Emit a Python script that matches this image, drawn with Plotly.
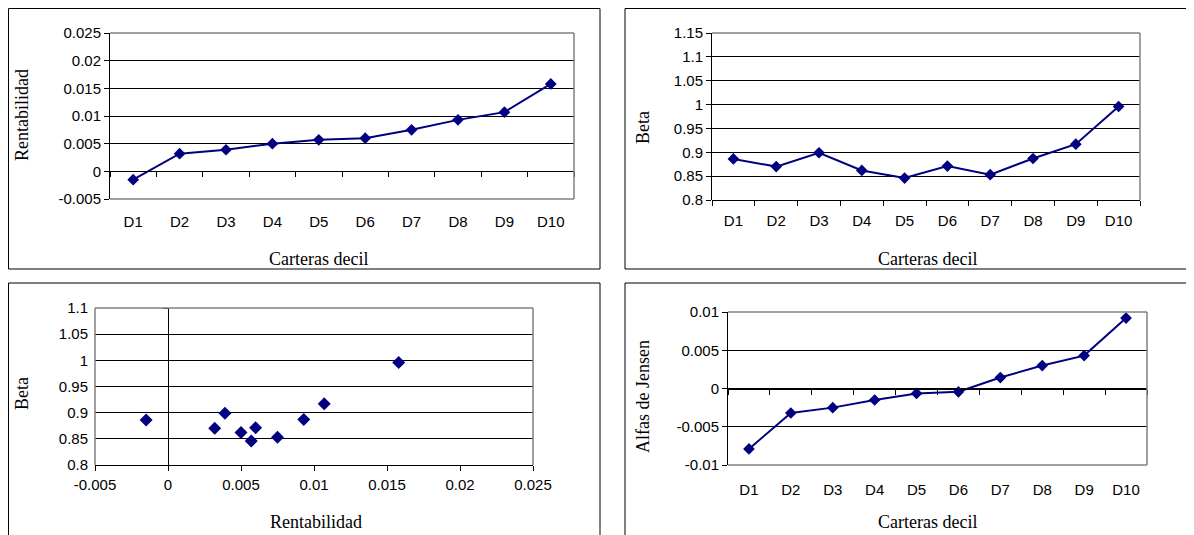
import plotly.graph_objects as go

W, H = 1194, 535
OX, OY = 8, 8  # page offset of the figure (body margin)

deciles = ["D1", "D2", "D3", "D4", "D5", "D6", "D7", "D8", "D9", "D10"]
rentabilidad = [-0.0015, 0.0032, 0.0039, 0.0050, 0.0057, 0.0060, 0.0075, 0.0093, 0.0107, 0.0158]
beta = [0.886, 0.870, 0.899, 0.862, 0.846, 0.871, 0.853, 0.887, 0.917, 0.996]
alfas = [-0.0079, -0.0032, -0.0025, -0.0015, -0.00065, -0.00043, 0.00143, 0.0030, 0.0043, 0.0092]

rent_ticks = [-0.005, 0, 0.005, 0.01, 0.015, 0.02, 0.025]
rent_text = ["-0.005", "0", "0.005", "0.01", "0.015", "0.02", "0.025"]
beta2_ticks = [0.8, 0.85, 0.9, 0.95, 1.0, 1.05, 1.1, 1.15]
beta2_text = ["0.8", "0.85", "0.9", "0.95", "1", "1.05", "1.1", "1.15"]
beta3_ticks = [0.8, 0.85, 0.9, 0.95, 1.0, 1.05, 1.1]
beta3_text = ["0.8", "0.85", "0.9", "0.95", "1", "1.05", "1.1"]
alfa_ticks = [-0.01, -0.005, 0, 0.005, 0.01]
alfa_text = ["-0.01", "-0.005", "0", "0.005", "0.01"]

NAVY = "#000080"
GRAY = "#808080"
TICKFONT = dict(family="Liberation Sans, Arial, sans-serif", size=15, color="black")
TITLEFONT = dict(family="Liberation Serif, Times New Roman, serif", size=18, color="black")


def fx(px):
    return (px - OX) / W


def fy(py):
    return 1 - (py - OY) / H


# plot areas in page pixels: (left, right, top, bottom)
P1 = (110, 574, 33, 199)
P2 = (712, 1140, 33, 200)
P3 = (95, 533, 308, 465)
P4 = (728, 1147, 312, 465)


def xdom(p):
    return [fx(p[0]), fx(p[1])]


def ydom(p):
    return [fy(p[3]), fy(p[2])]


cat_x = list(range(1, len(deciles) + 1))
bounds = [i + 0.5 for i in range(0, len(deciles) + 1)]

fig = go.Figure()

line_style = dict(color=NAVY, width=2)
marker_style = dict(symbol="diamond", size=9, color=NAVY)

fig.add_trace(go.Scatter(x=cat_x, y=rentabilidad, mode="lines+markers", line=line_style,
                         marker=marker_style, xaxis="x", yaxis="y", showlegend=False))
fig.add_trace(go.Scatter(x=cat_x, y=beta, mode="lines+markers", line=line_style,
                         marker=marker_style, xaxis="x2", yaxis="y2", showlegend=False))
fig.add_trace(go.Scatter(x=rentabilidad, y=beta, mode="markers",
                         marker=dict(symbol="diamond", size=10, color=NAVY),
                         xaxis="x3", yaxis="y3", showlegend=False))
fig.add_trace(go.Scatter(x=cat_x, y=alfas, mode="lines+markers", line=line_style,
                         marker=marker_style, xaxis="x4", yaxis="y4", showlegend=False))

# dummy traces to activate overlay tick axes
for xa, ya in [("x5", "y"), ("x6", "y2"), ("x7", "y4"), ("x3", "y5")]:
    fig.add_trace(go.Scatter(x=[], y=[], xaxis=xa, yaxis=ya, showlegend=False, hoverinfo="skip"))


def cat_xaxis(p, anchor, standoff=11):
    return dict(domain=xdom(p), anchor=anchor, range=[0.5, 10.5], tickmode="array",
                tickvals=cat_x, ticktext=deciles, ticks="", showline=False, showgrid=False,
                zeroline=False, tickfont=TICKFONT, ticklabelstandoff=standoff, fixedrange=True,
                automargin=False)


def val_yaxis(p, anchor, rng, tv, tt, showline=True):
    return dict(domain=ydom(p), anchor=anchor, range=rng, tickmode="array", tickvals=tv,
                ticktext=tt, ticks="outside" if showline else "", ticklen=5, tickcolor="black",
                showline=showline, linecolor="black", linewidth=1, showgrid=True,
                gridcolor="black", gridwidth=1, zeroline=False, tickfont=TICKFONT,
                fixedrange=True, automargin=False,
                ticklabelstandoff=0 if showline else 6)


def pos_of(p, rng, v):
    d0, d1 = ydom(p)
    return d0 + (v - rng[0]) / (rng[1] - rng[0]) * (d1 - d0)


r1 = [-0.005, 0.025]
r2 = [0.8, 1.15]
r3x = [-0.005, 0.025]
r3y = [0.8, 1.1]
r4 = [-0.01, 0.01]


def tick_overlay(p, over, pos):
    return dict(domain=xdom(p), overlaying=over, anchor="free", position=pos, range=[0.5, 10.5],
                tickmode="array", tickvals=bounds, showticklabels=False, ticks="outside",
                ticklen=5, tickcolor="black", showline=True, linecolor="black", linewidth=1,
                showgrid=False, zeroline=False, fixedrange=True, automargin=False)


layout = dict(
    width=W, height=H, margin=dict(l=0, r=0, t=0, b=0, pad=0, autoexpand=False),
    paper_bgcolor="white", plot_bgcolor="white", showlegend=False,
    xaxis=cat_xaxis(P1, "y", 12),
    yaxis=val_yaxis(P1, "x", r1, rent_ticks, rent_text),
    xaxis2=cat_xaxis(P2, "y2", 10),
    yaxis2=val_yaxis(P2, "x2", r2, beta2_ticks, beta2_text),
    xaxis3=dict(domain=xdom(P3), anchor="y3", range=r3x, tickmode="array", tickvals=rent_ticks,
                ticktext=rent_text, ticks="outside", ticklen=5, tickcolor="black", showline=True,
                linecolor="black", linewidth=1, showgrid=False, zeroline=False,
                tickfont=TICKFONT, fixedrange=True, automargin=False, ticklabelstandoff=1),
    yaxis3=val_yaxis(P3, "x3", r3y, beta3_ticks, beta3_text, showline=False),
    xaxis4=cat_xaxis(P4, "y4", 14),
    yaxis4=val_yaxis(P4, "x4", r4, alfa_ticks, alfa_text),
    xaxis5=tick_overlay(P1, "x", pos_of(P1, r1, 0)),
    xaxis6=tick_overlay(P2, "x2", pos_of(P2, r2, r2[0])),
    xaxis7=tick_overlay(P4, "x4", pos_of(P4, r4, 0)),
    yaxis5=dict(domain=ydom(P3), overlaying="y3", anchor="free",
                position=fx(P3[0]) + (0 - r3x[0]) / (r3x[1] - r3x[0]) * (fx(P3[1]) - fx(P3[0])),
                range=r3y, tickmode="array", tickvals=beta3_ticks, showticklabels=False,
                ticks="outside", ticklen=5, tickcolor="black", showline=True, linecolor="black",
                linewidth=1, showgrid=False, zeroline=False, fixedrange=True, automargin=False),
)
fig.update_layout(**layout)

shapes = []


def gray_line(xref, yref, x0, y0, x1, y1):
    shapes.append(dict(type="line", xref=xref, yref=yref, x0=x0, y0=y0, x1=x1, y1=y1,
                       line=dict(color=GRAY, width=1.5), layer="above"))


# gray plot-area frames
gray_line("x domain", "y domain", 0, 1, 1, 1)
gray_line("x domain", "y domain", 1, 0, 1, 1)
gray_line("x domain", "y domain", 0, 0, 1, 0)
gray_line("x2 domain", "y2 domain", 0, 1, 1, 1)
gray_line("x2 domain", "y2 domain", 1, 0, 1, 1)
gray_line("x3 domain", "y3 domain", 0, 1, 1, 1)
gray_line("x3 domain", "y3 domain", 1, 0, 1, 1)
gray_line("x3 domain", "y3 domain", 0, 0, 0, 1)
gray_line("x4 domain", "y4 domain", 0, 1, 1, 1)
gray_line("x4 domain", "y4 domain", 1, 0, 1, 1)
gray_line("x4 domain", "y4 domain", 0, 0, 1, 0)

# outer panel borders (page pixels; clamped to the drawable area)
for (l, t, r, b) in [(8.5, 8.5, 600, 269), (625, 8.5, 1193, 269),
                     (8.5, 283, 600, 560), (625, 283, 1193, 560)]:
    shapes.append(dict(type="rect", xref="paper", yref="paper", x0=fx(l), x1=fx(r), y0=fy(b), y1=fy(t),
                       line=dict(color="black", width=1), fillcolor="rgba(0,0,0,0)", layer="above"))

fig.update_layout(shapes=shapes)

annotations = []


def title(text, cx, cy, angle=0):
    annotations.append(dict(text=text, xref="paper", yref="paper", x=fx(cx), y=fy(cy),
                            xanchor="center", yanchor="middle", showarrow=False, textangle=angle,
                            font=TITLEFONT))


title("Carteras decil", 318, 259)
title("Rentabilidad", 22, 115, -90)
title("Carteras decil", 927, 259)
title("Beta", 643, 128, -90)
title("Rentabilidad", 316, 522)
title("Beta", 22, 394, -90)
title("Carteras decil", 927, 522)
title("Alfas de Jensen", 643, 397, -90)

fig.update_layout(annotations=annotations)

fig.write_html("out.html")
